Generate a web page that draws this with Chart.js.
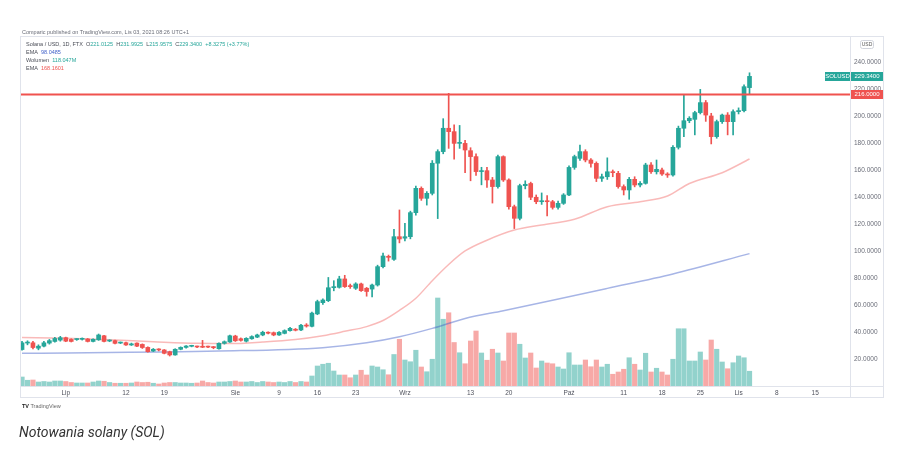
<!DOCTYPE html>
<html>
<head>
<meta charset="utf-8">
<title>Notowania solany (SOL)</title>
<script src="https://cdn.jsdelivr.net/npm/chart.js@4.4.0/dist/chart.umd.min.js"></script>
<style>
  html, body { margin: 0; padding: 0; background: #fff; }
  #wrap { position: relative; width: 904px; height: 451px; overflow: hidden; font-family: "Liberation Sans", Arial, sans-serif; }
  #chart { position: absolute; left: 0; top: 0; }
  .tiny { position: absolute; font-size: 5.5px; line-height: 8px; color: #4a4d57; white-space: nowrap; }
  .g { color: #26a69a; }
  .b { color: #3f5fc8; }
  .r { color: #ef5350; }
  #caption { position: absolute; left: 19px; top: 424px; font: italic 14px Roboto, "Open Sans", sans-serif; color: #333; }
</style>
</head>
<body>
<div id="wrap">
  <canvas id="chart" width="904" height="451"></canvas>
  <div class="tiny" style="left:22px;top:28px;color:#6a6d78">Comparic published on TradingView.com, Lis 03, 2021 08:26 UTC+1</div>
  <div class="tiny" style="left:26px;top:40px">Solana / USD, 1D, FTX&nbsp; O<span class="g">221.0125</span>&nbsp; H<span class="g">231.9925</span>&nbsp; L<span class="g">215.9575</span>&nbsp; C<span class="g">229.3400</span>&nbsp; <span class="g">+8.3275 (+3.77%)</span></div>
  <div class="tiny" style="left:26px;top:48px">EMA&nbsp; <span class="b">98.0485</span></div>
  <div class="tiny" style="left:26px;top:56px">Wolumen&nbsp; <span class="g">118.047M</span></div>
  <div class="tiny" style="left:26px;top:64px">EMA&nbsp; <span class="r">168.1601</span></div>
  <div class="tiny" style="left:22px;top:402px;color:#666"><b style="color:#222">TV</b> TradingView</div>
  <div id="caption">Notowania solany (SOL)</div>
</div>
<script>
// SOL/USD 1D (FTX), od 2021-06-23 do 2021-11-03
const firstDay = '2021-06-23';

const opens = [
  27.0, 31.8, 32.0, 28.0, 29.5, 31.8, 33.0, 34.0, 35.8, 34.5,
  34.4, 34.6, 34.8, 33.0, 34.2, 37.2, 33.3, 33.6, 31.8, 32.1,
  30.4, 31.8, 30.8, 28.6, 25.9, 26.8, 26.7, 25.4, 23.0, 27.2,
  28.6, 29.4, 29.2, 29.0, 29.0, 28.8, 27.6, 31.6, 32.6, 37.0,
  35.0, 33.2, 35.0, 36.2, 37.8, 39.6, 39.5, 37.8, 39.0, 41.0,
  41.9, 41.5, 44.9, 44.2, 53.4, 61.7, 63.2, 72.8, 73.1, 79.3,
  74.0, 72.4, 75.6, 72.4, 71.8, 74.8, 88.4, 96.0, 93.8, 110.6,
  109.5, 110.6, 128.4, 146.4, 139.0, 142.7, 165.0, 173.6, 190.9, 188.4,
  179.7, 179.7, 174.3, 169.9, 158.8, 159.5, 152.6, 147.7, 169.9, 152.6,
  132.8, 124.2, 148.4, 150.0, 139.8, 136.5, 136.8, 136.5, 132.3, 135.3,
  141.5, 161.9, 168.6, 173.6, 167.4, 164.9, 153.8, 155.0, 158.7, 157.5,
  147.7, 145.2, 153.1, 148.9, 150.1, 163.7, 158.7, 160.0, 157.0, 156.3,
  176.8, 190.9, 196.5, 197.5, 202.5, 209.9, 200.0, 184.7, 195.8, 200.7,
  195.8, 203.2, 203.9, 221.01
];
const highs = [
  33.0, 33.5, 33.0, 30.5, 33.0, 34.5, 36.0, 36.8, 36.2, 35.0,
  35.0, 35.6, 35.2, 34.9, 38.5, 37.6, 34.2, 34.0, 32.6, 32.5,
  31.8, 32.0, 31.2, 29.0, 27.8, 27.6, 27.0, 25.8, 27.6, 29.0,
  30.0, 30.2, 29.6, 33.8, 29.6, 29.3, 31.9, 33.4, 37.8, 37.6,
  35.6, 35.8, 37.2, 38.4, 40.6, 40.2, 40.0, 40.4, 41.6, 43.4,
  42.6, 45.6, 46.2, 54.8, 63.6, 64.5, 80.4, 78.0, 81.3, 82.0,
  75.5, 76.5, 76.2, 73.0, 75.5, 89.5, 98.5, 97.0, 116.0, 130.4,
  120.5, 129.5, 148.0, 147.5, 144.0, 167.0, 175.0, 198.0, 216.8, 193.5,
  193.0, 182.0, 176.5, 172.0, 162.0, 162.0, 154.5, 171.0, 170.5, 153.5,
  134.0, 149.5, 152.0, 151.0, 141.5, 143.0, 141.0, 137.5, 137.0, 142.5,
  163.0, 171.0, 178.5, 175.0, 168.5, 166.0, 157.0, 169.0, 160.0, 159.0,
  149.0, 154.5, 155.0, 151.5, 165.0, 165.5, 167.4, 161.5, 158.0, 178.0,
  192.5, 215.6, 199.5, 203.5, 219.7, 211.5, 202.0, 197.0, 201.5, 202.5,
  204.5, 206.0, 223.0, 231.99
];
const lows = [
  26.5, 30.5, 27.5, 26.8, 29.0, 31.0, 32.5, 33.2, 32.8, 32.6,
  33.8, 34.0, 32.6, 32.6, 33.8, 32.6, 32.8, 31.2, 31.4, 30.0,
  30.0, 29.1, 27.8, 25.0, 25.5, 26.0, 23.8, 22.2, 22.8, 26.8,
  28.0, 29.0, 28.4, 28.4, 28.4, 27.6, 27.2, 31.0, 32.2, 33.0,
  33.2, 32.6, 34.6, 35.8, 37.2, 38.6, 37.2, 37.4, 38.6, 40.6,
  40.8, 41.0, 43.6, 43.8, 52.8, 60.5, 62.5, 70.5, 72.5, 73.0,
  72.3, 71.5, 70.0, 66.5, 66.0, 74.0, 87.5, 92.5, 93.0, 106.0,
  107.5, 109.0, 126.5, 137.5, 134.0, 141.5, 124.0, 172.0, 176.0, 168.0,
  176.0, 158.0, 152.0, 156.0, 149.0, 147.0, 135.5, 146.5, 151.5, 131.0,
  116.6, 123.0, 146.0, 138.0, 135.0, 134.5, 126.0, 131.0, 131.0, 134.5,
  141.0, 160.5, 167.0, 166.0, 162.0, 151.4, 151.5, 153.0, 155.0, 146.5,
  141.5, 138.3, 147.5, 147.5, 149.5, 157.5, 157.0, 156.0, 154.5, 155.5,
  175.5, 184.7, 195.0, 186.0, 201.5, 196.0, 179.3, 183.5, 194.5, 186.0,
  186.0, 201.5, 203.0, 215.96
];
const closes = [
  32.0, 32.2, 28.5, 29.5, 32.0, 33.6, 35.2, 35.8, 33.2, 33.0,
  34.6, 35.0, 33.0, 34.6, 37.8, 33.0, 33.6, 31.6, 32.1, 30.4,
  31.2, 29.5, 28.5, 25.4, 27.2, 26.7, 24.2, 23.0, 27.2, 28.6,
  29.6, 29.7, 28.9, 28.7, 28.8, 28.4, 31.6, 32.8, 37.2, 33.5,
  33.8, 35.3, 36.6, 37.8, 39.8, 39.1, 37.8, 39.8, 41.0, 42.7,
  41.3, 45.0, 44.4, 54.0, 62.5, 63.7, 72.8, 73.6, 79.3, 73.6,
  73.6, 75.6, 70.6, 70.0, 74.8, 88.4, 96.3, 95.3, 110.6, 108.9,
  110.6, 128.4, 146.4, 139.0, 142.7, 165.0, 173.6, 190.9, 188.4, 179.7,
  180.2, 174.8, 169.9, 158.8, 159.3, 152.6, 147.7, 169.9, 152.6, 132.8,
  124.2, 148.4, 149.4, 139.8, 136.5, 136.8, 136.5, 132.3, 135.3, 141.5,
  161.9, 169.9, 173.6, 167.4, 164.9, 153.8, 155.0, 158.7, 158.0, 147.7,
  145.2, 153.1, 148.9, 150.1, 163.7, 158.7, 160.5, 157.0, 156.3, 176.8,
  190.9, 196.5, 198.3, 202.5, 209.9, 200.7, 184.7, 195.8, 200.7, 195.8,
  203.2, 204.0, 221.7, 229.34
];
// wolumen w mln
const volumes = [
  72, 46, 48, 32, 36, 32, 40, 40, 36, 28,
  24, 24, 24, 32, 40, 38, 28, 22, 22, 22,
  24, 32, 28, 30, 22, 16, 24, 28, 28, 24,
  24, 22, 24, 40, 28, 24, 32, 32, 36, 40,
  32, 32, 36, 28, 36, 32, 28, 32, 28, 36,
  28, 36, 32, 80, 160, 174, 182, 120, 88, 88,
  66, 88, 126, 88, 160, 152, 130, 90, 252, 374,
  208, 194, 286, 152, 114, 214, 704, 534, 586, 348,
  266, 178, 360, 440, 264, 206, 294, 264, 200, 424,
  424, 334, 224, 264, 144, 200, 184, 178, 152, 136,
  266, 168, 168, 208, 154, 208, 152, 174, 94, 112,
  134, 226, 174, 128, 262, 112, 142, 112, 88, 214,
  458, 458, 200, 200, 272, 208, 368, 294, 192, 138,
  186, 240, 226, 118.05
];

// EMA (dzień -> wartość)
const emaFastDays = [0, 8, 16, 24, 32, 38, 44, 50, 55, 59, 63, 66, 69, 72, 75, 78, 81, 85, 90, 95, 101, 107, 113, 118, 122, 128, 133];
const emaFastVals = [36, 35.3, 34.2, 32.8, 31.6, 31.4, 32.6, 34.5, 37.3, 40.5, 44, 48.5, 56, 65, 78, 90, 100, 108, 115.5, 119.3, 123.5, 132.8, 136.5, 140.7, 150, 158, 168.16];
const emaSlowDays = [0, 36, 55, 63, 69, 75, 81, 88, 97, 107, 119, 133];
const emaSlowVals = [24.2, 25.9, 28.4, 32, 36.5, 42.7, 50, 55.8, 63.5, 72.3, 83, 98.05];

const tickDays   = [8, 19, 26, 39, 47, 54, 61, 70, 82, 89, 100, 110, 117, 124, 131, 138, 145];
const tickLabels = ['Lip', '12', '19', 'Sie', '9', '16', '23', 'Wrz', '13', '20', 'Paź', '11', '18', '25', 'Lis', '8', '15'];

const levelPrice = 216;
const xMin = -0.37, xMax = 151.37;
const yMax = 258.5, volMax = 2792;

const up = '#26a69a', down = '#ef5350';
const upVol = 'rgba(38,166,154,0.5)', downVol = 'rgba(239,83,80,0.5)';

const isUp = closes.map((c, i) => c >= opens[i]);

Chart.defaults.font.family = '"Liberation Sans", Arial, sans-serif';

function tag(ctx, x, y, w, text, color) {
  ctx.fillStyle = color;
  ctx.fillRect(x, Math.round(y) - 4, w, 9);
  ctx.fillStyle = '#fff';
  ctx.font = '6px "Liberation Sans", Arial, sans-serif';
  ctx.textBaseline = 'middle';
  ctx.textAlign = 'center';
  ctx.fillText(text, x + w / 2, Math.round(y) + 0.5);
}

const frame = {
  id: 'frame',
  afterDraw(chart) {
    const { ctx, chartArea: a, scales: { y } } = chart;
    ctx.save();
    ctx.strokeStyle = '#e0e3eb';
    ctx.lineWidth = 1;
    ctx.strokeRect(20.5, 36.5, 863, 361);
    ctx.beginPath();
    ctx.moveTo(a.right + 0.5, 36.5); ctx.lineTo(a.right + 0.5, 397.5);
    ctx.moveTo(20.5, a.bottom + 0.5); ctx.lineTo(883.5, a.bottom + 0.5);
    ctx.stroke();

    const last = closes[closes.length - 1];
    tag(ctx, a.right + 1, y.getPixelForValue(levelPrice), 32, levelPrice.toFixed(4), down);
    tag(ctx, a.right + 1, y.getPixelForValue(last), 32, last.toFixed(4), up);
    tag(ctx, a.right - 25, y.getPixelForValue(last), 25, 'SOLUSD', up);

    // USD
    ctx.strokeStyle = '#d1d4dc';
    ctx.beginPath();
    ctx.roundRect(860.5, 40.5, 13, 8, 2);
    ctx.stroke();
    ctx.fillStyle = '#555';
    ctx.font = '5px "Liberation Sans", Arial, sans-serif';
    ctx.textAlign = 'center';
    ctx.textBaseline = 'middle';
    ctx.fillText('USD', 867, 44.8);
    ctx.restore();
  }
};

new Chart(document.getElementById('chart'), {
  type: 'bar',
  data: {
    datasets: [
      {
        type: 'line',
        data: [{ x: xMin, y: levelPrice }, { x: xMax, y: levelPrice }],
        borderColor: '#f0524f', borderWidth: 2, pointRadius: 0, order: 0, yAxisID: 'y',
      },
      {
        data: opens.map((o, i) => ({ x: i, y: [o, closes[i]] })),
        backgroundColor: isUp.map(u => u ? up : down),
        barThickness: 4, minBarLength: 1, grouped: false, order: 1, yAxisID: 'y',
      },
      {
        data: lows.map((l, i) => ({ x: i, y: [l, highs[i]] })),
        backgroundColor: isUp.map(u => u ? up : down),
        barThickness: 1, grouped: false, order: 2, yAxisID: 'y',
      },
      {
        type: 'line',
        data: emaFastDays.map((d, k) => ({ x: d, y: emaFastVals[k] })),
        borderColor: 'rgba(239,83,80,0.4)', borderWidth: 1.5, pointRadius: 0,
        cubicInterpolationMode: 'monotone', order: 3, yAxisID: 'y',
      },
      {
        type: 'line',
        data: emaSlowDays.map((d, k) => ({ x: d, y: emaSlowVals[k] })),
        borderColor: 'rgba(60,90,200,0.45)', borderWidth: 1.5, pointRadius: 0,
        cubicInterpolationMode: 'monotone', order: 4, yAxisID: 'y',
      },
      {
        data: volumes.map((v, i) => ({ x: i, y: v })),
        backgroundColor: isUp.map(u => u ? upVol : downVol),
        barThickness: 4.5, grouped: false, order: 5, yAxisID: 'yv',
      },
    ],
  },
  options: {
    responsive: false,
    animation: false,
    layout: { padding: { left: 20, right: 21, top: 37, bottom: 54 } },
    plugins: { legend: { display: false }, tooltip: { enabled: false } },
    scales: {
      x: {
        type: 'linear', min: xMin, max: xMax, offset: false,
        grid: { display: false, drawTicks: false },
        border: { display: false },
        afterBuildTicks: s => { s.ticks = tickDays.map(v => ({ value: v })); },
        afterFit: s => { s.height = 11; },
        ticks: {
          autoSkip: false, maxRotation: 0, padding: 3,
          color: '#50535e', font: { size: 6.5 },
          callback: v => tickLabels[tickDays.indexOf(v)] ?? '',
        },
      },
      y: {
        position: 'right', min: 0, max: yMax,
        grid: { display: false, drawTicks: false },
        border: { display: false },
        afterFit: s => { s.width = 33; },
        ticks: {
          stepSize: 20, includeBounds: false, padding: 4,
          color: '#6a6d78', font: { size: 6.5 },
          callback: v => v === 0 ? '' : v.toFixed(4),
        },
      },
      yv: { display: false, min: 0, max: volMax },
    },
  },
  plugins: [frame],
});
</script>
</body>
</html>
